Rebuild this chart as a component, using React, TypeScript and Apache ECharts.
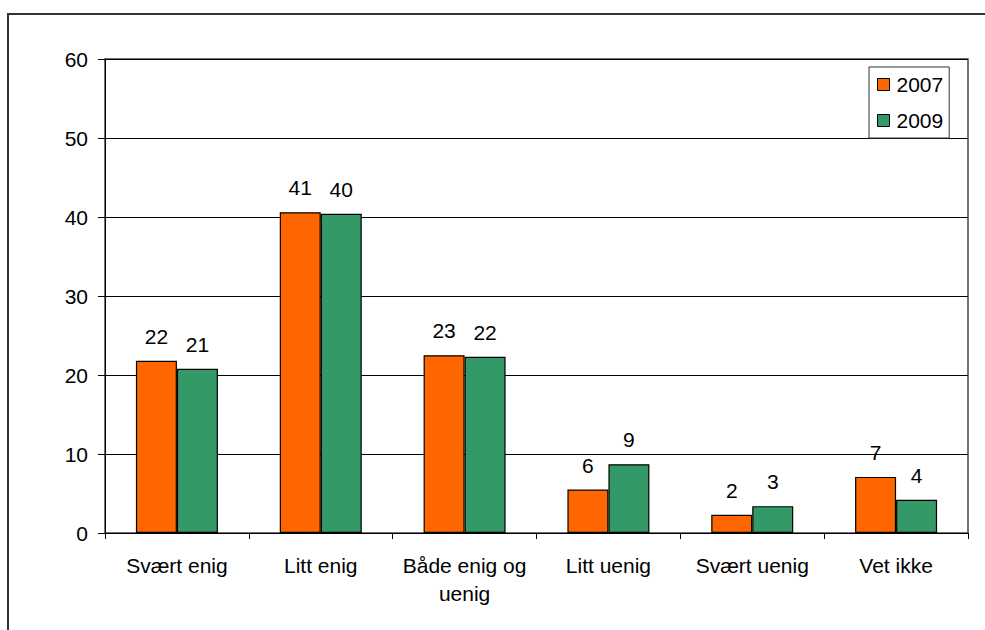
import React, { useEffect, useRef } from "react";
import * as echarts from "echarts";

const categories = ["Svært enig", "Litt enig", "Både enig og\nuenig", "Litt uenig", "Svært uenig", "Vet ikke"];
const seriesNames = ["2007", "2009"];
const values2007 = [21.8, 40.6, 22.5, 5.5, 2.3, 7.1];
const values2009 = [20.8, 40.4, 22.3, 8.7, 3.4, 4.2];
const labels2007 = [22, 41, 23, 6, 2, 7];
const labels2009 = [21, 40, 22, 9, 3, 4];
const colors = ["#FF6600", "#339966"];

const FONT = "'Liberation Sans', Arial, sans-serif";
const FS = 21;

export default function App() {
  const ref = useRef<HTMLDivElement>(null);
  useEffect(() => {
    if (!ref.current) return;
    const chart = echarts.init(ref.current, null, { renderer: "svg" });
    const mk = (name: string, data: number[], labels: number[], color: string) => ({
      name,
      type: "bar",
      data,
      barWidth: 41,
      barGap: "0%",
      itemStyle: { color, borderColor: "#000", borderWidth: 1.2 },
      label: {
        show: true,
        position: "top",
        distance: 14,
        color: "#000",
        fontSize: FS,
        fontFamily: FONT,
        formatter: (p: any) => String(labels[p.dataIndex]),
      },
    });
    chart.setOption({
      animation: false,
      backgroundColor: "#fff",
      textStyle: { fontFamily: FONT },
      graphic: [
        {
          type: "rect",
          shape: { x: 8, y: 14, width: 1000, height: 700 },
          style: { fill: "none", stroke: "#333", lineWidth: 2 },
          silent: true,
        },
      ],
      legend: {
        orient: "vertical",
        left: 869,
        top: 67,
        padding: [7, 6, 7, 8],
        itemGap: 15,
        itemWidth: 12,
        itemHeight: 12,
        itemStyle: { borderColor: "#000", borderWidth: 1 },
        borderColor: "#333",
        borderWidth: 1,
        backgroundColor: "#fff",
        icon: "rect",
        textStyle: { fontSize: FS, color: "#000", fontFamily: FONT, padding: [0, 0, 0, 2] },
        data: seriesNames,
      },
      grid: {
        left: 105,
        top: 59,
        right: 17,
        bottom: 97,
        show: true,
        borderColor: "#444",
        borderWidth: 1.5,
        containLabel: false,
      },
      xAxis: {
        type: "category",
        data: categories,
        axisLine: { lineStyle: { color: "#000", width: 1 } },
        axisTick: { show: true, length: 6, lineStyle: { color: "#000" } },
        axisLabel: {
          color: "#000",
          fontSize: FS,
          fontFamily: FONT,
          margin: 18,
          lineHeight: 28,
          interval: 0,
        },
      },
      yAxis: {
        type: "value",
        min: 0,
        max: 60,
        interval: 10,
        axisLine: { show: true, lineStyle: { color: "#000", width: 1 } },
        axisTick: { show: true, length: 7, lineStyle: { color: "#000" } },
        axisLabel: { color: "#000", fontSize: FS, fontFamily: FONT, margin: 17 },
        splitLine: { show: true, lineStyle: { color: "#000", width: 1 } },
      },
      series: [
        mk(seriesNames[0], values2007, labels2007, colors[0]),
        mk(seriesNames[1], values2009, labels2009, colors[1]),
      ],
    });
    return () => chart.dispose();
  }, []);
  return (
    <div
      ref={ref}
      style={{ position: "fixed", left: 0, top: 0, width: 985, height: 630, background: "#fff" }}
    />
  );
}
